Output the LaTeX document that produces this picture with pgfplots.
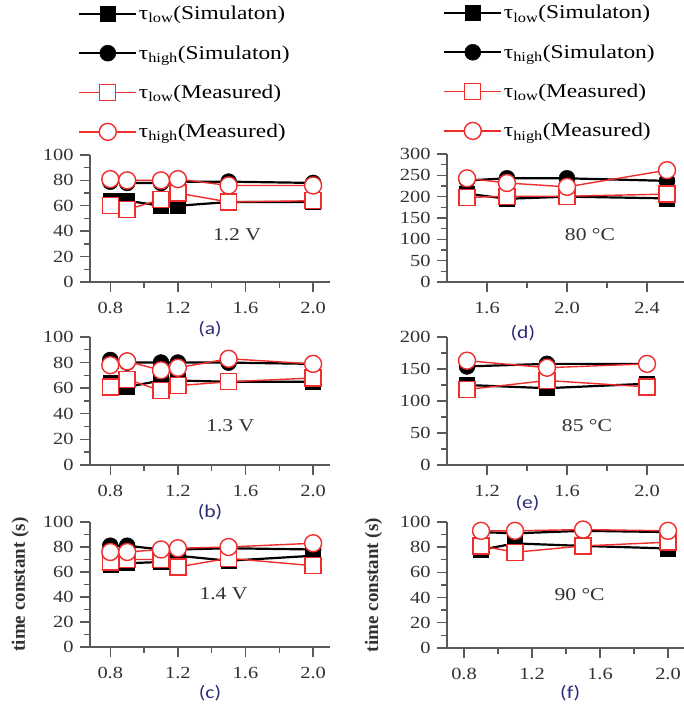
\documentclass[border=0pt]{standalone}
\usepackage{pgfplots}
\pgfplotsset{compat=1.18}
\usepackage{fontspec}
\setmainfont[FakeStretch=1.2]{Liberation Serif}
\newfontfamily\ylabfont{Liberation Serif}
\newfontfamily\subfont[FakeStretch=1.2]{Carlito}
\definecolor{axgray}{RGB}{90,90,90}
\definecolor{tickgray}{RGB}{50,50,50}
\definecolor{mred}{RGB}{240,45,45}
\definecolor{subblue}{RGB}{45,45,120}
\tikzset{
 annot/.style={font=\fontsize{18}{18}\selectfont, text=tickgray},
 sublab/.style={font=\subfont\fontsize{18}{18}\selectfont, text=subblue},
}
\pgfplotsset{
 panel/.style={
  scale only axis, width=240pt,
  axis x line=bottom, axis y line=left,
  axis line style={-, axgray, line width=1.6pt},
  every tick/.style={axgray, line width=1.4pt},
  tick align=outside,
  major tick length=10pt, minor tick length=6pt,
  minor x tick num=1, minor y tick num=1,
  tick label style={font=\fontsize{17}{17}\selectfont, text=tickgray},
  /pgf/number format/assume math mode=true,
  x tick label style={/pgf/number format/fixed, /pgf/number format/fixed zerofill, /pgf/number format/precision=1, yshift=-7pt},
  y tick label style={xshift=-3pt},
  ymin=0, clip=false,
  legend cell align=left,
  legend image code/.code={\draw[mark repeat=2,mark phase=2,##1] plot coordinates {(0pt,0pt) (28.5pt,0pt) (57pt,0pt)};},
  legend style={draw=none, fill=none, font=\fontsize{19.5}{19.5}\selectfont, row sep=21.3pt, inner sep=0pt, nodes={inner sep=1.5pt}},
 },
 simlow/.style={black, line width=2.2pt, mark=square*, mark size=7.5pt, mark options={solid, line width=0.5pt, fill=black}},
 simhigh/.style={black, line width=2.2pt, mark=*, mark size=8pt, mark options={solid, line width=0.5pt, fill=black}},
 measlow/.style={mred, line width=1.4pt, mark=square*, mark size=8pt, mark options={solid, line width=1.4pt, fill=white, draw=mred}},
 meashigh/.style={mred, line width=1.4pt, mark=*, mark size=8.5pt, mark options={solid, line width=1.4pt, fill=white, draw=mred}},
 ylab/.style={ylabel={time constant (s)}, ylabel style={font=\ylabfont\bfseries\fontsize{19}{19}\selectfont, text=tickgray, at={(axis description cs:#1,0.5)}, anchor=center}},
}
\begin{document}
\begin{tikzpicture}
\path[use as bounding box, fill=white] (0pt,0pt) rectangle (684pt,712pt);
% (a)
\begin{axis}[panel, at={(90pt,430pt)}, anchor=south west, height=127pt,
  xmin=0.68, xmax=2.1, ymax=100, xtick={0.8,1.2,1.6,2.0}, ytick={0,20,40,60,80,100},
  legend style={at={(-0.05,2.184)}, anchor=north west}]
\addplot[simlow] coordinates {(0.8,64)(0.9,64)(1.1,60)(1.2,60)(1.5,63)(2.0,63)};
\addlegendentry{τ\textsubscript{low}(Simulaton)}
\addplot[simhigh] coordinates {(0.8,79)(0.9,78)(1.1,78)(1.2,79)(1.5,79)(2.0,78)};
\addlegendentry{τ\textsubscript{high}(Simulaton)}
\addplot[measlow] coordinates {(0.8,60)(0.9,57)(1.1,65)(1.2,70)(1.5,63)(2.0,64)};
\addlegendentry{τ\textsubscript{low}(Measured)}
\addplot[meashigh] coordinates {(0.8,81)(0.9,80)(1.1,80)(1.2,81)(1.5,76)(2.0,76)};
\addlegendentry{τ\textsubscript{high}(Measured)}
\node[annot] at (axis cs:1.55,37) {1.2 V};
\node[sublab] at (rel axis cs:0.5,-0.37) {(a)};
\end{axis}
% (b)
\begin{axis}[panel, at={(90pt,247pt)}, anchor=south west, height=128pt,
  xmin=0.68, xmax=2.1, ymax=100, xtick={0.8,1.2,1.6,2.0}, ytick={0,20,40,60,80,100}]
\addplot[simlow] coordinates {(0.8,64)(0.9,61)(1.1,66)(1.2,66)(1.5,65)(2.0,65)};
\addplot[simhigh] coordinates {(0.8,82)(0.9,80)(1.1,80)(1.2,80)(1.5,80)(2.0,79)};
\addplot[measlow] coordinates {(0.8,61)(0.9,67)(1.1,58)(1.2,62)(1.5,65)(2.0,68)};
\addplot[meashigh] coordinates {(0.8,78)(0.9,81)(1.1,74)(1.2,76)(1.5,83)(2.0,79)};
\node[annot] at (axis cs:1.51,31) {1.3 V};
\node[sublab] at (rel axis cs:0.5,-0.37) {(b)};
\end{axis}
% (c)
\begin{axis}[panel, at={(90pt,65pt)}, anchor=south west, height=125pt,
  xmin=0.68, xmax=2.1, ymax=100, xtick={0.8,1.2,1.6,2.0}, ytick={0,20,40,60,80,100}, ylab=-0.29]
\addplot[simlow] coordinates {(0.8,66)(0.9,67)(1.1,68)(1.2,73)(1.5,69)(2.0,73)};
\addplot[simhigh] coordinates {(0.8,81)(0.9,81)(1.1,78)(1.2,78)(1.5,79)(2.0,78)};
\addplot[measlow] coordinates {(0.8,68)(0.9,70)(1.1,70)(1.2,64)(1.5,71)(2.0,65)};
\addplot[meashigh] coordinates {(0.8,76)(0.9,76)(1.1,78)(1.2,79)(1.5,80)(2.0,83)};
\node[annot] at (axis cs:1.47,43) {1.4 V};
\node[sublab] at (rel axis cs:0.5,-0.37) {(c)};
\end{axis}
% (d)
\begin{axis}[panel, at={(447pt,430pt)}, anchor=south west, width=237pt, height=128pt,
  xmin=1.4, xmax=2.585, ymax=300, xtick={1.6,2.0,2.4}, ytick={0,50,100,150,200,250,300},
  legend style={at={(-0.017,2.174)}, anchor=north west}]
\addplot[simlow] coordinates {(1.5,207)(1.7,195)(2.0,200)(2.5,196)};
\addlegendentry{τ\textsubscript{low}(Simulaton)}
\addplot[simhigh] coordinates {(1.5,238)(1.7,243)(2.0,243)(2.5,237)};
\addlegendentry{τ\textsubscript{high}(Simulaton)}
\addplot[measlow] coordinates {(1.5,198)(1.7,201)(2.0,201)(2.5,206)};
\addlegendentry{τ\textsubscript{low}(Measured)}
\addplot[meashigh] coordinates {(1.5,243)(1.7,232)(2.0,223)(2.5,262)};
\addlegendentry{τ\textsubscript{high}(Measured)}
\node[annot] at (axis cs:2.115,110) {80 °C};
\node[sublab] at (rel axis cs:0.32,-0.40) {(d)};
\end{axis}
% (e)
\begin{axis}[panel, at={(447pt,247pt)}, anchor=south west, width=237pt, height=128pt,
  xmin=1.0, xmax=2.185, ymax=200, xtick={1.2,1.6,2.0}, ytick={0,50,100,150,200}]
\addplot[simlow] coordinates {(1.1,125)(1.5,120)(2.0,127)};
\addplot[simhigh] coordinates {(1.1,154)(1.5,158)(2.0,158)};
\addplot[measlow] coordinates {(1.1,118)(1.5,132)(2.0,122)};
\addplot[meashigh] coordinates {(1.1,163)(1.5,152)(2.0,158)};
\node[annot] at (axis cs:1.7,62) {85 °C};
\node[sublab] at (rel axis cs:0.34,-0.30) {(e)};
\end{axis}
% (f)
\begin{axis}[panel, at={(447pt,64pt)}, anchor=south west, width=237pt, height=126pt,
  xmin=0.7, xmax=2.094, ymax=100, xtick={0.8,1.2,1.6,2.0}, ytick={0,20,40,60,80,100}, ylab=-0.31]
\addplot[simlow] coordinates {(0.9,78)(1.1,83)(1.5,81)(2.0,79)};
\addplot[simhigh] coordinates {(0.9,92)(1.1,91)(1.5,93)(2.0,92)};
\addplot[measlow] coordinates {(0.9,81)(1.1,76)(1.5,81)(2.0,84)};
\addplot[meashigh] coordinates {(0.9,93)(1.1,93)(1.5,94)(2.0,93)};
\node[annot] at (axis cs:1.48,42) {90 °C};
\node[sublab] at (rel axis cs:0.52,-0.36) {(f)};
\end{axis}
\end{tikzpicture}
\end{document}
